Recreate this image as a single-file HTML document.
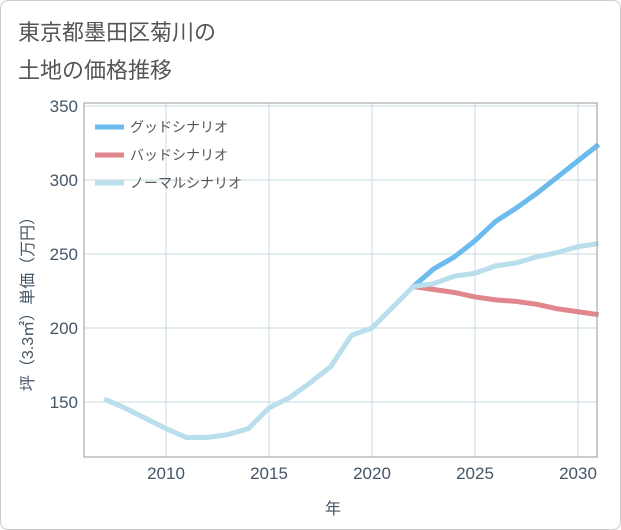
<!DOCTYPE html>
<html><head><meta charset="utf-8">
<style>
body{margin:0;background:#fff;font-family:"Liberation Sans","Noto Sans CJK JP",sans-serif;}
#card{position:absolute;left:0;top:0;width:619px;height:528px;border:1px solid #ccc;border-radius:8px;background:#fff;}
</style></head><body>
<div id="card">
<svg id="chart" width="621" height="530" style="position:absolute;left:-1px;top:-1px">
<text x="18" y="40" font-size="22" fill="#555">東京都墨田区菊川の</text>
<text x="18" y="78" font-size="22" fill="#555">土地の価格推移</text>
<g id="grid"></g><g id="series"></g><g id="axes"></g>
</svg>
</div>
<script>
const years=[2007,2008,2009,2010,2011,2012,2013,2014,2015,2016,2017,2018,2019,2020,2021,2022,2023,2024,2025,2026,2027,2028,2029,2030,2031];
const normalValues=[152,146,139,132,126,126,128,132,146,153,163,174,195,200,214,228,230,235,237,242,244,248,251,255,257];
const futureYears=[2022,2023,2024,2025,2026,2027,2028,2029,2030,2031];
const goodValues=[228,240,248,259,272,281,291,302,313,324];
const badValues=[228,226,224,221,219,218,216,213,211,209];
const xTicks=[2010,2015,2020,2025,2030];
const yTicks=[150,200,250,300,350];
const L=84,R=597,T=103,B=457;
const x=v=>166+(v-2010)*20.6;
const y=v=>476-(v-100)*1.48;
const NS="http://www.w3.org/2000/svg";
function mk(tag,attrs,parent){const e=document.createElementNS(NS,tag);for(const k in attrs)e.setAttribute(k,attrs[k]);parent.appendChild(e);return e;}
const grid=document.getElementById('grid'),ser=document.getElementById('series'),ax=document.getElementById('axes');
xTicks.forEach(t=>{const l=mk('line',{x1:x(t),x2:x(t),y1:T,y2:B,stroke:'#c9dbe6','stroke-width':1},grid);


const tx=mk('text',{x:x(t),y:479,'font-size':17,fill:'#456','text-anchor':'middle'},ax);tx.textContent=t;

});
yTicks.forEach(t=>{const l=mk('line',{x1:L,x2:R,y1:y(t),y2:y(t),stroke:'#c9dbe6','stroke-width':1},grid);


const tx=mk('text',{x:78,y:y(t)+6,'font-size':17,fill:'#456','text-anchor':'end'},ax);tx.textContent=t;

});
const frame=mk('rect',{x:L,y:T,width:R-L,height:B-T,fill:'none',stroke:'#999','stroke-width':1},ax);


function line(xs,vs,color,name){const p=mk('polyline',{points:xs.map((t,i)=>x(t)+','+y(vs[i])).join(' '),fill:'none',stroke:color,'stroke-width':5,'stroke-linejoin':'round'},ser);

}
line(futureYears,badValues,'#e0868c','bad-scenario-line');
line(futureYears,goodValues,'#6bbbef','good-scenario-line');
line(years,normalValues,'#b9dfec','normal-scenario-line');
const leg=[['グッドシナリオ','#6bbbef'],['バッドシナリオ','#e0868c'],['ノーマルシナリオ','#b9dfec']];
leg.forEach((d,i)=>{const g=mk('g',{},ax);


mk('line',{x1:95,x2:124,y1:127+i*28,y2:127+i*28,stroke:d[1],'stroke-width':5},g);
const t=mk('text',{x:130,y:132+i*28,'font-size':14,fill:'#555'},g);t.textContent=d[0];});
const xt=mk('text',{x:333,y:514,'font-size':16,fill:'#456','text-anchor':'middle'},ax);xt.textContent='年';


const yt=mk('text',{x:0,y:0,'font-size':16,fill:'#456','text-anchor':'middle',transform:'translate(33,300) rotate(-90)'},ax);yt.textContent='坪（3.3㎡）単価（万円）';


</script>
</body></html>
